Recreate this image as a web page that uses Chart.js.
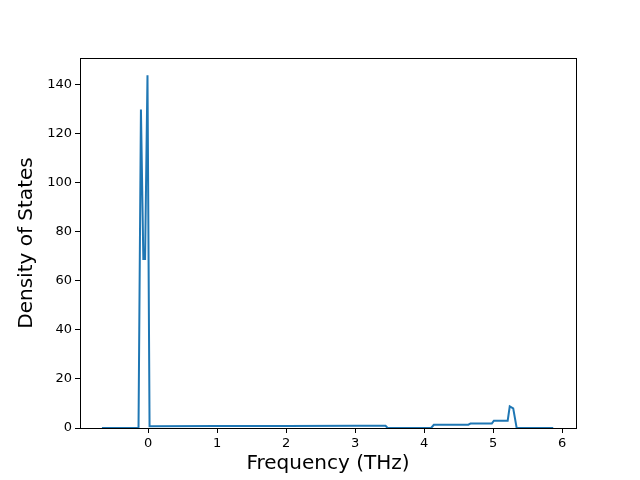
<!DOCTYPE html>
<html>
<head>
<meta charset="utf-8">
<script src="https://cdn.jsdelivr.net/npm/chart.js@4"></script>
<style>
  html, body { margin: 0; padding: 0; background: #fff; }
  #wrap { width: 640px; height: 480px; }
</style>
</head>
<body>
<div id="wrap"><canvas id="dos"></canvas></div>
<script>
// frequencies (THz) and density of states
const freqs = [-0.67, -0.15, -0.14, -0.105, -0.07, -0.045, -0.01, 0.02, 1.0, 2.0, 3.0, 3.44, 3.47,
  4.10, 4.14, 4.64, 4.67, 4.98, 5.01, 5.21, 5.24, 5.29, 5.34, 5.87];
const dos = [0, 0, 0, 130, 69, 69, 144, 0.7, 0.8, 0.85, 0.9, 0.9, 0,
  0, 1.3, 1.35, 1.8, 1.8, 3.0, 3.0, 8.8, 8.0, 0, 0];
const xTicks = [0, 1, 2, 3, 4, 5, 6];
const yTicks = [0, 20, 40, 60, 80, 100, 120, 140];

const points = freqs.map((f, i) => ({ x: f, y: dos[i] }));

// matplotlib-like frame on all four sides
const framePlugin = {
  id: 'frame',
  afterDraw(chart) {
    const { ctx, chartArea: a } = chart;
    ctx.save();
    ctx.strokeStyle = '#000';
    ctx.lineWidth = 1;
    ctx.strokeRect(a.left + 0.5, a.top + 0.5, a.right - a.left, a.bottom - a.top);
    ctx.restore();
  }
};

const font = { family: 'DejaVu Sans', size: 13 };
const titleFont = { family: 'DejaVu Sans', size: 20 };

new Chart(document.getElementById('dos'), {
  type: 'line',
  data: {
    datasets: [{
      data: points,
      borderColor: '#1f77b4',
      borderWidth: 2,
      pointRadius: 0,
      tension: 0,
      fill: false
    }]
  },
  options: {
    responsive: true,
    maintainAspectRatio: false,
    animation: false,
    layout: { padding: { top: 58, right: 64, left: 0, bottom: 0 } },
    plugins: { legend: { display: false }, tooltip: { enabled: false } },
    scales: {
      x: {
        type: 'linear',
        min: -0.988,
        max: 6.2,
        afterBuildTicks: s => { s.ticks = xTicks.map(v => ({ value: v })); },
        afterFit: s => { s.height = 52; },
        grid: { display: true, drawOnChartArea: false, tickLength: 5, color: '#000' },
        border: { display: true, color: '#000' },
        ticks: { color: '#000', font, padding: 3, maxRotation: 0 },
        title: { display: true, text: 'Frequency (THz)', color: '#000', font: titleFont, padding: { top: 2 } }
      },
      y: {
        type: 'linear',
        min: 0,
        max: 151,
        afterBuildTicks: s => { s.ticks = yTicks.map(v => ({ value: v })); },
        afterFit: s => { s.width = 80; },
        grid: { display: true, drawOnChartArea: false, tickLength: 5, color: '#000' },
        border: { display: true, color: '#000' },
        ticks: { color: '#000', font, padding: 3 },
        title: { display: true, text: 'Density of States', color: '#000', font: titleFont, padding: { top: 15, bottom: 6 } }
      }
    }
  },
  plugins: [framePlugin]
});
</script>
</body>
</html>
